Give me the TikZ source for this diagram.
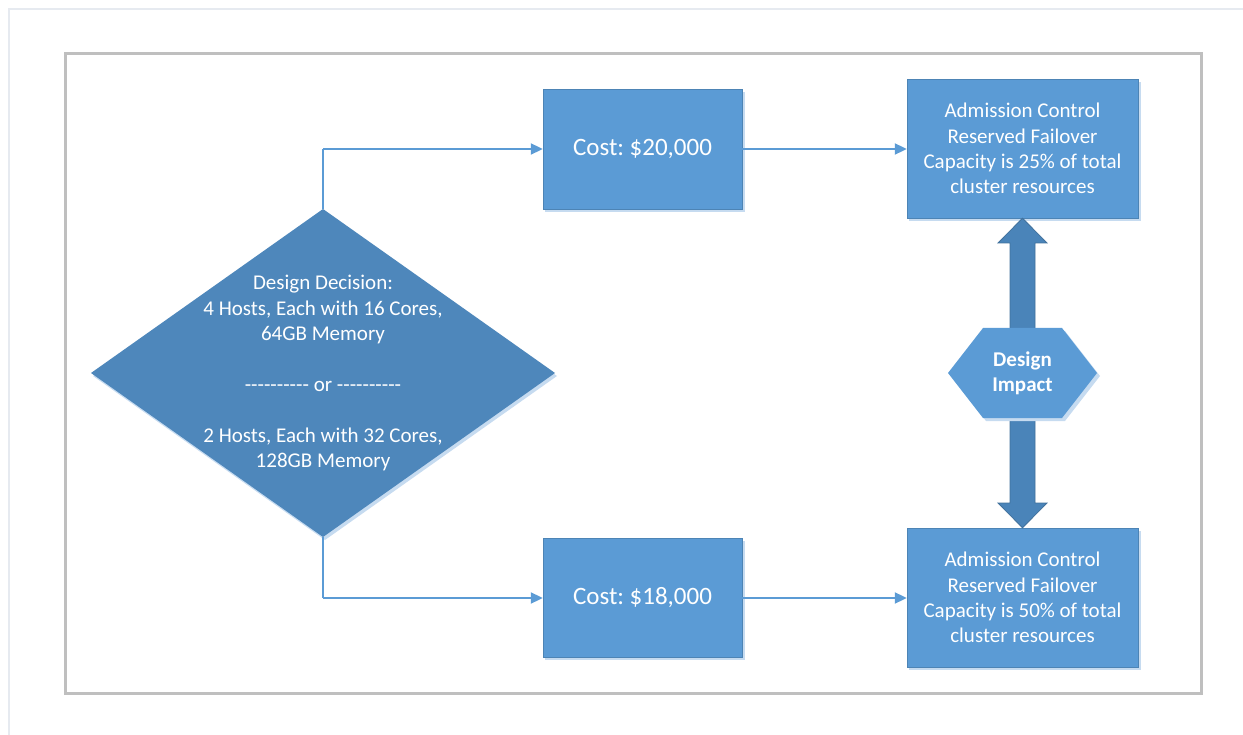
\documentclass[tikz,border=0pt]{standalone}
\usepackage{fontspec}
\setmainfont{Carlito}
\usetikzlibrary{arrows.meta}
\frenchspacing
\definecolor{boxblue}{HTML}{5B9BD5}
\definecolor{deepblue}{HTML}{4E87BB}
\definecolor{arrowblue}{HTML}{4A84B9}
\definecolor{edgeblue}{HTML}{41719C}
\definecolor{shadowblue}{HTML}{C6DBF0}
\definecolor{framegray}{HTML}{BFBFBF}
\definecolor{pagegray}{HTML}{E6EAF0}
\newcommand{\dashrun}{-{}-{}-{}-{}-{}-{}-{}-{}-{}-}
\tikzset{
  txt/.style={text=white, align=center, inner sep=0pt, font=\fontsize{21}{25.4}\selectfont},
  costtxt/.style={text=white, inner sep=0pt, font=\fontsize{25}{30}\selectfont},
  stepbox/.style={fill=boxblue, draw=boxblue!85!black, line width=0.4pt},
  shade/.style={fill=shadowblue},
  link/.style={draw=boxblue, line width=2pt, -{Triangle[length=12pt,width=11pt]}},
  linkplain/.style={draw=boxblue, line width=2pt},
}
\begin{document}
\begin{tikzpicture}[x=1pt,y=-1pt]
\useasboundingbox (0,0) rectangle (1243,735);
% page edge and outer frame
\draw[pagegray, line width=1.5pt] (9,740) -- (9,9) -- (1250,9);
\draw[framegray, line width=3pt] (65,54) rectangle (1201,693);

% shadows
\fill[shade] (545,92) rectangle (745,212);
\fill[shade] (545,541) rectangle (745,660);
\fill[shade] (909,82) rectangle (1141,221);
\fill[shade] (909,531) rectangle (1141,670);
\fill[shade] (93,376) -- (325,212) -- (557,376) -- (325,540) -- cycle;

% decision diamond
\fill[deepblue] (91,373) coordinate (dl) -- (323,209) coordinate (dt)
  -- (555,373) coordinate (dr) -- (323,537) coordinate (db) -- cycle;
\node[txt] (dec) at (323,373) {Design Decision:\\4 Hosts, Each with 16 Cores,\\64GB Memory\\[25.4pt]\dashrun{} or \dashrun\\[25.4pt]2 Hosts, Each with 32 Cores,\\128GB Memory};

% cost boxes
\node[stepbox, minimum width=199pt, minimum height=120pt, inner sep=0pt] (c1) at (642.5,149) {};
\node[costtxt] at (c1) {Cost: \$20,000};
\node[stepbox, minimum width=199pt, minimum height=119pt, inner sep=0pt] (c2) at (642.5,597.5) {};
\node[costtxt] at (c2) {Cost: \$18,000};

% outcome boxes
\node[stepbox, minimum width=231pt, minimum height=139pt, inner sep=0pt] (r1) at (1022.5,148.5) {};
\node[txt] at (r1) {Admission Control\\Reserved Failover\\Capacity is 25\% of total\\cluster resources};
\node[stepbox, minimum width=231pt, minimum height=139pt, inner sep=0pt] (r2) at (1022.5,597.5) {};
\node[txt] at (r2) {Admission Control\\Reserved Failover\\Capacity is 50\% of total\\cluster resources};

% connectors
\coordinate (tk) at (323,149);
\coordinate (bk) at (323,598);
\draw[linkplain] (dt) -- (tk);
\draw[link] (tk) -- (c1.west |- tk);
\draw[link] (c1.east) -- (r1.west |- c1.east);
\draw[linkplain] (db) -- (bk);
\draw[link] (bk) -- (c2.west |- bk);
\draw[link] (c2.east |- bk) -- (r2.west |- bk);

% double-headed block arrow between outcomes
\filldraw[fill=arrowblue, draw=edgeblue, line width=0.8pt]
  (r1.south) -- (1047,243) -- (1035,243) -- (1035,503) -- (1047,503)
  -- (r2.north) -- (998,503) -- (1010,503) -- (1010,243) -- (998,243) -- cycle;

% design impact hexagon
\fill[shade] (951,376) -- (986,331) -- (1065,331) -- (1100,376) -- (1065,421) -- (986,421) -- cycle;
\fill[boxblue] (948,373) -- (983,328) -- (1062,328) -- (1097,373) -- (1062,418) -- (983,418) -- cycle;
\node[txt, font=\fontsize{21}{25.4}\selectfont\bfseries] (imp) at (1022.5,373) {Design\\Impact};
\end{tikzpicture}
\end{document}
